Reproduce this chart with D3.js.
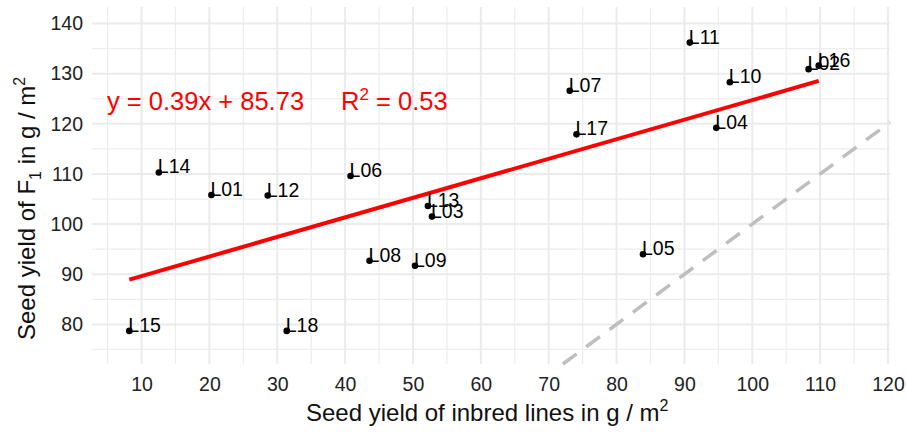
<!DOCTYPE html>
<html>
<head>
<meta charset="utf-8">
<script src="https://cdn.jsdelivr.net/npm/d3@7"></script>
<style>
  body { margin: 0; background: #fff; }
  svg { display: block; font-family: "Liberation Sans", Arial, sans-serif; }
</style>
</head>
<body>
<svg id="chart" width="906" height="434"></svg>
<script>
// Line names and yields (g / m2)
const lines = ["L01", "L02", "L03", "L04", "L05", "L06", "L07", "L08", "L09",
  "L10", "L11", "L12", "L13", "L14", "L15", "L16", "L17", "L18"];
const inbredYield = [20.3, 108.3, 52.8, 94.7, 83.9, 40.8, 73.1, 43.6, 50.3,
  96.7, 90.8, 28.6, 52.2, 12.55, 8.2, 109.8, 74.1, 31.4];
const f1Yield = [105.8, 130.9, 101.5, 119.2, 94.0, 109.6, 126.6, 92.7, 91.7,
  128.3, 136.2, 105.7, 103.6, 110.3, 78.7, 131.6, 117.9, 78.7];

const xTicks = [10, 20, 30, 40, 50, 60, 70, 80, 90, 100, 110, 120];
const yTicks = [80, 90, 100, 110, 120, 130, 140];
const xMinor = [5, 15, 25, 35, 45, 55, 65, 75, 85, 95, 105, 115];
const yMinor = [75, 85, 95, 105, 115, 125, 135];

const slope = 0.39, intercept = 85.73, r2 = 0.53;

const svg = d3.select("#chart");
const pLeft = 92, pRight = 890, pTop = 7, pBottom = 364;

const x = d3.scaleLinear().domain([2.7, 120.3]).range([pLeft, pRight]);
const y = d3.scaleLinear().domain([72.1, 143.3]).range([pBottom, pTop]);

// grid
const grid = svg.append("g");
grid.selectAll(".xm").data(xMinor).enter().append("line")
  .attr("x1", d => x(d)).attr("x2", d => x(d)).attr("y1", pTop).attr("y2", pBottom)
  .attr("stroke", "#EDEDED").attr("stroke-width", 1.2);
grid.selectAll(".ym").data(yMinor).enter().append("line")
  .attr("y1", d => y(d)).attr("y2", d => y(d)).attr("x1", pLeft).attr("x2", pRight)
  .attr("stroke", "#EDEDED").attr("stroke-width", 1.2);
grid.selectAll(".xM").data(xTicks).enter().append("line")
  .attr("x1", d => x(d)).attr("x2", d => x(d)).attr("y1", pTop).attr("y2", pBottom)
  .attr("stroke", "#EBEBEB").attr("stroke-width", 2);
grid.selectAll(".yM").data(yTicks).enter().append("line")
  .attr("y1", d => y(d)).attr("y2", d => y(d)).attr("x1", pLeft).attr("x2", pRight)
  .attr("stroke", "#EBEBEB").attr("stroke-width", 2);

// axes (no lines, just labels)
const xAxis = svg.append("g")
  .attr("transform", `translate(0,${pBottom})`)
  .call(d3.axisBottom(x).tickValues(xTicks).tickSize(0).tickPadding(13));
const yAxis = svg.append("g")
  .attr("transform", `translate(${pLeft},0)`)
  .call(d3.axisLeft(y).tickValues(yTicks).tickSize(0).tickPadding(9));
[xAxis, yAxis].forEach(a => {
  a.select(".domain").remove();
  a.selectAll("text").attr("font-size", 19.5).attr("fill", "#222")
    .attr("font-family", "Liberation Sans, Arial, sans-serif");
});

// y = x reference line, clipped to the panel
const lo = Math.max(x.domain()[0], y.domain()[0]);
const hi = Math.min(x.domain()[1], y.domain()[1]);
svg.append("line")
  .attr("x1", x(lo)).attr("y1", y(lo)).attr("x2", x(hi)).attr("y2", y(hi))
  .attr("stroke", "#BEBEBE").attr("stroke-width", 3.5)
  .attr("stroke-dasharray", "17,12");

// regression line over the data range
const xr = d3.extent(inbredYield);
svg.append("line")
  .attr("x1", x(xr[0])).attr("y1", y(slope * xr[0] + intercept))
  .attr("x2", x(xr[1])).attr("y2", y(slope * xr[1] + intercept))
  .attr("stroke", "#FF0000").attr("stroke-width", 4);

// points + labels
const pts = lines.map((name, i) => ({ name, x: inbredYield[i], y: f1Yield[i] }));
svg.append("g").selectAll("circle").data(pts).enter().append("circle")
  .attr("cx", d => x(d.x)).attr("cy", d => y(d.y)).attr("r", 3.3).attr("fill", "#000");
svg.append("g").selectAll("text").data(pts).enter().append("text")
  .attr("x", d => x(d.x) - 1).attr("y", d => y(d.y) + 1)
  .attr("font-size", 19.5).attr("fill", "#000")
  .text(d => d.name);

// equation
const eq = svg.append("text").attr("y", 110).attr("font-size", 25.5).attr("fill", "#FF0000");
eq.append("tspan").attr("x", 107).text(`y = ${slope}x + ${intercept}`);
const r = svg.append("text").attr("x", 341).attr("y", 110).attr("font-size", 25.5).attr("fill", "#FF0000");
r.append("tspan").text("R");
r.append("tspan").attr("dy", -10).attr("font-size", 17).text("2");
r.append("tspan").attr("dy", 10).text(" = " + r2);

// axis titles
const xt = svg.append("text").attr("x", 306).attr("y", 421).attr("font-size", 24).attr("fill", "#111");
xt.append("tspan").text("Seed yield of inbred lines in g / m");
xt.append("tspan").attr("dy", -10).attr("font-size", 16).text("2");

const yt = svg.append("text")
  .attr("transform", "translate(35,340) rotate(-90)")
  .attr("font-size", 24).attr("fill", "#111");
yt.append("tspan").text("Seed yield of F");
yt.append("tspan").attr("dy", 6).attr("font-size", 16).text("1");
yt.append("tspan").attr("dy", -6).text(" in g / m");
yt.append("tspan").attr("dy", -10).attr("font-size", 16).text("2");
</script>
</body>
</html>
